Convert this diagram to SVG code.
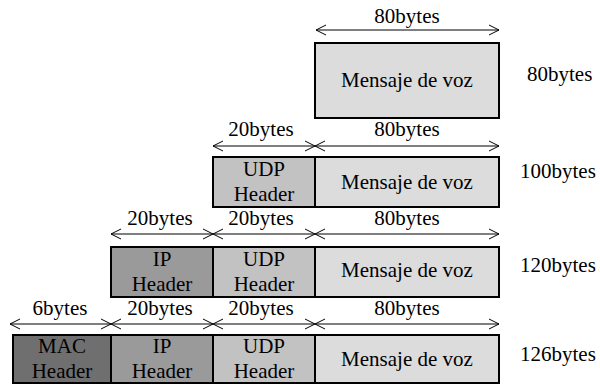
<svg xmlns="http://www.w3.org/2000/svg" width="600" height="385" viewBox="0 0 600 385">
<style>
text{font-family:"Liberation Serif","Times New Roman",serif;font-size:21px;fill:#000;text-anchor:middle}
.lbl{text-anchor:start}
.box{stroke:#000;stroke-width:2}
.mac{fill:#6f6f6f}.ip{fill:#9a9a9a}.udp{fill:#c2c2c2}.msg{fill:#dcdcdc}
.dim{stroke:#000;stroke-width:1;fill:none;marker-start:url(#ah);marker-end:url(#ah)}
</style>
<defs>
<marker id="ah" viewBox="0 0 12 12" refX="11" refY="6" markerWidth="12" markerHeight="12" markerUnits="userSpaceOnUse" orient="auto-start-reverse">
<path d="M1,1 L11,6 L1,11" fill="none" stroke="#000" stroke-width="1"/>
</marker>
</defs>
<rect width="600" height="385" fill="#fff"/>
<g id="connectors">
<line class="dim" x1="316" y1="30" x2="499" y2="30"/>
<line class="dim" x1="213" y1="146" x2="315" y2="146"/>
<line class="dim" x1="315" y1="146" x2="499" y2="146"/>
<line class="dim" x1="111" y1="234" x2="213" y2="234"/>
<line class="dim" x1="213" y1="234" x2="315" y2="234"/>
<line class="dim" x1="315" y1="234" x2="499" y2="234"/>
<line class="dim" x1="10" y1="324" x2="111" y2="324"/>
<line class="dim" x1="111" y1="324" x2="213" y2="324"/>
<line class="dim" x1="213" y1="324" x2="315" y2="324"/>
<line class="dim" x1="315" y1="324" x2="499" y2="324"/>
</g>
<g id="dim-labels">
<text x="407" y="23">80bytes</text>
<text x="261" y="136">20bytes</text>
<text x="407" y="136">80bytes</text>
<text x="160" y="225">20bytes</text>
<text x="261" y="225">20bytes</text>
<text x="407" y="225">80bytes</text>
<text x="60" y="315">6bytes</text>
<text x="160" y="315">20bytes</text>
<text x="261" y="315">20bytes</text>
<text x="407" y="315">80bytes</text>
</g>
<g id="row1">
<g id="r1-msg"><rect class="box msg" x="315" y="43" width="184" height="75"/><text x="407" y="87">Mensaje de voz</text></g>
<text class="lbl" x="527" y="81">80bytes</text>
</g>
<g id="row2">
<g id="r2-udp"><rect class="box udp" x="213" y="157" width="102" height="50"/><text x="264" y="176">UDP</text><text x="264" y="201">Header</text></g>
<g id="r2-msg"><rect class="box msg" x="315" y="157" width="184" height="50"/><text x="407" y="189">Mensaje de voz</text></g>
<text class="lbl" x="520" y="178">100bytes</text>
</g>
<g id="row3">
<g id="r3-ip"><rect class="box ip" x="111" y="247" width="102" height="50"/><text x="162" y="266">IP</text><text x="162" y="291">Header</text></g>
<g id="r3-udp"><rect class="box udp" x="213" y="247" width="102" height="50"/><text x="264" y="266">UDP</text><text x="264" y="291">Header</text></g>
<g id="r3-msg"><rect class="box msg" x="315" y="247" width="184" height="50"/><text x="407" y="277">Mensaje de voz</text></g>
<text class="lbl" x="520" y="272">120bytes</text>
</g>
<g id="row4">
<g id="r4-mac"><rect class="box mac" x="13" y="335" width="98" height="48"/><text x="62" y="353">MAC</text><text x="62" y="378">Header</text></g>
<g id="r4-ip"><rect class="box ip" x="111" y="335" width="102" height="48"/><text x="162" y="353">IP</text><text x="162" y="378">Header</text></g>
<g id="r4-udp"><rect class="box udp" x="213" y="335" width="102" height="48"/><text x="264" y="353">UDP</text><text x="264" y="378">Header</text></g>
<g id="r4-msg"><rect class="box msg" x="315" y="335" width="184" height="48"/><text x="407" y="366">Mensaje de voz</text></g>
<text class="lbl" x="520" y="361">126bytes</text>
</g>
</svg>
